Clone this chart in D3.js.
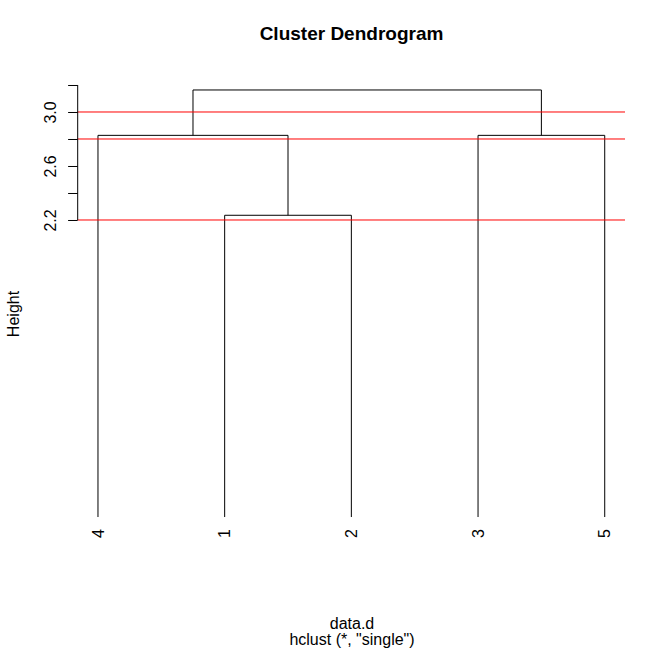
<!DOCTYPE html>
<html>
<head>
<meta charset="utf-8">
<script src="https://cdn.jsdelivr.net/npm/d3@7"></script>
<style>
  html, body { margin: 0; padding: 0; background: #fff; }
  svg { display: block; font-family: "Liberation Sans", Arial, Helvetica, sans-serif; }
</style>
</head>
<body>
<svg id="chart" width="664" height="652"></svg>
<script>
// ---- Data ----
const leafLabels = ["4", "1", "2", "3", "5"];           // dendrogram order
// R-style merge matrix (negative = leaf id, positive = earlier merge step)
const mergeLeft  = [-1, -3, -4, 3];
const mergeRight = [-2, -5,  1, 2];
const mergeHeights = [2.235, 2.827, 2.827, 3.163];
const cutHeights = [3.0, 2.8, 2.2];
const yTicks = [2.2, 2.4, 2.6, 2.8, 3.0, 3.2];
const yTickLabels = ["2.2", "", "2.6", "", "3.0", ""];
const titleText = "Cluster Dendrogram";
const xLabel = "data.d";
const subText = "hclust (*, \"single\")";
const yLabel = "Height";

// ---- Layout ----
const svg = d3.select("#chart");
const region = { left: 77.7, right: 625, top: 72.9, bottom: 534.1 };

const n = leafLabels.length;
const xPad = (n - 1) * 0.04;
const x = d3.scaleLinear().domain([1 - xPad, n + xPad]).range([region.left, region.right]);
const hMax = d3.max(mergeHeights);
const yPad = hMax * 0.04;
const y = d3.scaleLinear().domain([0 - yPad, hMax + yPad]).range([region.bottom, region.top]);

// positions of leaves by label
const leafPos = {};
leafLabels.forEach((l, i) => { leafPos[l] = i + 1; });

// compute node x (mid of children) and height
const nodes = [];
function nodeInfo(id) {
  if (id < 0) return { x: leafPos[String(-id)], h: 0 };
  return nodes[id - 1];
}
const segs = [];
mergeLeft.forEach((a, i) => {
  const A = nodeInfo(a), B = nodeInfo(mergeRight[i]);
  const h = mergeHeights[i];
  const left = A.x < B.x ? A : B, right = A.x < B.x ? B : A;
  segs.push({ x1: left.x, y1: left.h, x2: left.x, y2: h });
  segs.push({ x1: left.x, y1: h, x2: right.x, y2: h });
  segs.push({ x1: right.x, y1: h, x2: right.x, y2: right.h });
  nodes.push({ x: (left.x + right.x) / 2, h: h });
});

// ---- Dendrogram ----
svg.append("g").selectAll("line").data(segs).join("line")
  .attr("x1", d => x(d.x1)).attr("y1", d => y(d.y1))
  .attr("x2", d => x(d.x2)).attr("y2", d => y(d.y2))
  .attr("stroke", "#000").attr("stroke-width", 1);

// ---- Cut lines ----
svg.append("g").selectAll("line").data(cutHeights).join("line")
  .attr("x1", region.left).attr("x2", region.right)
  .attr("y1", d => y(d)).attr("y2", d => y(d))
  .attr("stroke", "#ff0000").attr("stroke-width", 1);

// ---- Leaf labels ----
svg.append("g").selectAll("text").data(leafLabels).join("text")
  .attr("transform", (d, i) => `translate(${x(i + 1)},${y(0) + 12}) rotate(-90)`)
  .attr("text-anchor", "end")
  .attr("dy", "0.35em")
  .attr("font-size", 16)
  .text(d => d);

// ---- Y axis ----
const axis = d3.axisLeft(y).tickValues(yTicks)
  .tickFormat((d, i) => yTickLabels[i]).tickSize(9.6).tickPadding(12);
const gAxis = svg.append("g").attr("transform", `translate(${region.left},0)`).call(axis);
gAxis.select(".domain").attr("d", `M0,${y(yTicks[0])}V${y(yTicks[yTicks.length - 1])}`)
  .attr("stroke", "#000");
gAxis.selectAll(".tick line").attr("stroke", "#000");
gAxis.selectAll(".tick text")
  .attr("font-size", 16).attr("fill", "#000")
  .attr("font-family", "'Liberation Sans', Arial, sans-serif")
  .attr("text-anchor", "middle").attr("x", null).attr("dy", null)
  .attr("transform", "translate(-22,0) rotate(-90)");

// ---- Titles ----
svg.append("text").attr("x", 351.5).attr("y", 40)
  .attr("text-anchor", "middle").attr("font-size", 19).attr("font-weight", "bold")
  .text(titleText);
svg.append("text").attr("x", 352).attr("y", 629)
  .attr("text-anchor", "middle").attr("font-size", 16).text(xLabel);
svg.append("text").attr("x", 352).attr("y", 645)
  .attr("text-anchor", "middle").attr("font-size", 16).text(subText);
svg.append("text").attr("transform", "translate(19,314) rotate(-90)")
  .attr("text-anchor", "middle").attr("font-size", 16).text(yLabel);
</script>
</body>
</html>
